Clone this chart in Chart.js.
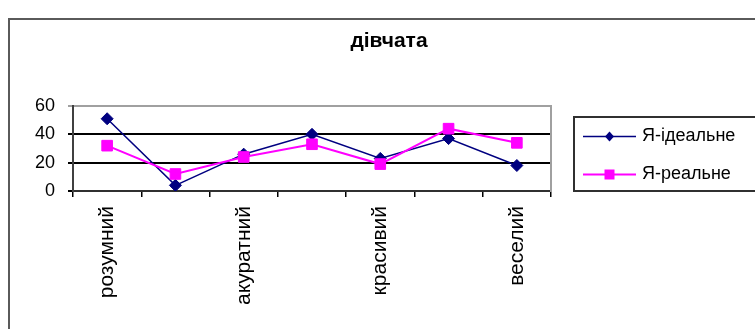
<!DOCTYPE html>
<html>
<head>
<meta charset="utf-8">
<script src="https://cdn.jsdelivr.net/npm/chart.js@4/dist/chart.umd.min.js"></script>
<style>
    html, body { margin: 0; padding: 0; background: #fff; }
</style>
</head>
<body>
<canvas id="girls_chart" width="755" height="329"></canvas>
<script>
// Chart data
const chartTitle = 'дівчата';
const categories = ['розумний', '', 'акуратний', '', 'красивий', '', 'веселий'];
const seriesNames = ['Я-ідеальне', 'Я-реальне'];
const idealValues = [51, 4, 26, 40, 23, 37, 18];
const realValues = [32, 12, 24, 33, 19, 44, 34];
const yTicks = [0, 20, 40, 60];

const FONT = '"Liberation Sans", Arial, sans-serif';

// Outer frame of the chart object
const framePlugin = {
    id: 'frame',
    beforeDraw(chart) {
        const ctx = chart.ctx;
        ctx.save();
        ctx.fillStyle = '#fff';
        ctx.fillRect(0, 0, chart.width, chart.height);
        ctx.strokeStyle = '#5a5a5a';
        ctx.lineWidth = 2;
        ctx.strokeRect(9, 19, 900, 400);
        ctx.restore();
    }
};

// Excel-like legend box with line + marker samples
const legendPlugin = {
    id: 'legendBox',
    afterDraw(chart) {
        const ctx = chart.ctx;
        ctx.save();
        ctx.strokeStyle = '#303030';
        ctx.lineWidth = 2;
        ctx.strokeRect(574, 117, 240, 74);

        chart.data.datasets.forEach((ds, i) => {
            const y = 136.5 + i * 38;
            ctx.strokeStyle = ds.borderColor;
            ctx.lineWidth = ds.borderWidth;
            ctx.beginPath();
            ctx.moveTo(583, y);
            ctx.lineTo(636, y);
            ctx.stroke();

            ctx.fillStyle = ds.pointBackgroundColor;
            ctx.beginPath();
            if (ds.pointStyle === 'rectRot') {
                ctx.moveTo(609.5, y - 5);
                ctx.lineTo(614, y);
                ctx.lineTo(609.5, y + 5);
                ctx.lineTo(605, y);
                ctx.closePath();
            } else {
                ctx.rect(604.5, y - 5, 10, 10);
            }
            ctx.fill();

            ctx.fillStyle = '#000';
            ctx.font = '18px ' + FONT;
            ctx.textBaseline = 'middle';
            ctx.textAlign = 'left';
            ctx.fillText(ds.label, 642, y);
        });
        ctx.restore();
    }
};

const ctx = document.getElementById('girls_chart').getContext('2d');

new Chart(ctx, {
    type: 'line',
    data: {
        labels: categories,
        datasets: [{
            label: seriesNames[0],
            data: idealValues,
            order: 1,
            borderColor: '#000080',
            borderWidth: 1.5,
            pointStyle: 'rectRot',
            pointRadius: 6,
            pointBackgroundColor: '#000080',
            pointBorderColor: '#000080',
            pointBorderWidth: 1,
            tension: 0
        }, {
            label: seriesNames[1],
            data: realValues,
            order: 0,
            borderColor: '#ff00ff',
            borderWidth: 2,
            pointStyle: 'rect',
            pointRadius: 7.5,
            pointBackgroundColor: '#ff00ff',
            pointBorderColor: '#ff00ff',
            pointBorderWidth: 1,
            tension: 0
        }]
    },
    options: {
        responsive: false,
        animation: false,
        devicePixelRatio: 1,
        layout: {
            padding: { left: 23, right: 0, top: 20, bottom: 18 }
        },
        plugins: {
            legend: { display: false },
            tooltip: { enabled: false },
            title: {
                display: true,
                text: chartTitle,
                color: '#000',
                font: { family: FONT, size: 21, weight: 'bold' },
                padding: { top: 8.4, bottom: 52.4 }
            }
        },
        scales: {
            x: {
                offset: true,
                border: { color: '#303030', width: 2 },
                grid: {
                    offset: true,
                    drawOnChartArea: false,
                    drawTicks: true,
                    tickLength: 6,
                    color: '#000',
                    lineWidth: 1.5
                },
                ticks: {
                    autoSkip: false,
                    maxRotation: 90,
                    minRotation: 90,
                    padding: 9,
                    color: '#000',
                    font: { family: FONT, size: 21 }
                },
                afterFit(scale) {
                    scale.height = 120;
                }
            },
            y: {
                min: 0,
                max: 60,
                border: { color: '#404040', width: 2 },
                grid: {
                    drawTicks: true,
                    tickLength: 5,
                    lineWidth: 2,
                    color: (c) => c.tick && c.tick.value === 60 ? '#a0a0a0' : '#000'
                },
                afterBuildTicks(scale) {
                    scale.ticks = yTicks.map(v => ({ value: v }));
                },
                ticks: {
                    padding: 13,
                    color: '#000',
                    font: { family: FONT, size: 18 }
                },
                afterFit(scale) {
                    scale.width = 50;
                }
            },
            // empty right axis: gray right edge of the plot and room for the legend
            yRight: {
                position: 'right',
                min: 0,
                max: 60,
                border: { color: '#a0a0a0', width: 2 },
                grid: { drawOnChartArea: false, drawTicks: false },
                ticks: { display: false },
                afterFit(scale) {
                    scale.width = 204;
                }
            }
        }
    },
    plugins: [framePlugin, legendPlugin]
});
</script>
</body>
</html>
